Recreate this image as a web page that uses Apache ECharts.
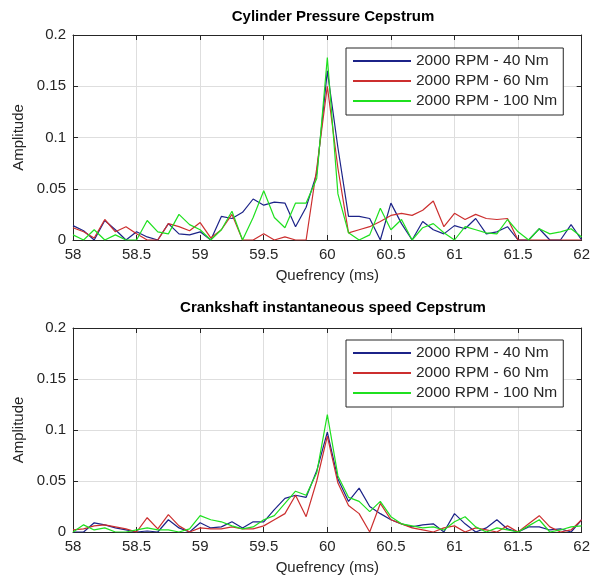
<!DOCTYPE html>
<html>
<head>
<meta charset="utf-8">
<script src="https://cdn.jsdelivr.net/npm/echarts@6/dist/echarts.min.js"></script>
<style>
html,body{margin:0;padding:0;background:#fff;}
#chart{width:593px;height:588px;}
</style>
</head>
<body>
<div id="chart"></div>
<script>
// Sampling grid of the quefrency axis (ms): 1/12 ms steps from 58 to 62
const quefrency = Array.from({length: 49}, (_, i) => 58 + i / 12);
const seriesNames = ['2000 RPM - 40 Nm', '2000 RPM - 60 Nm', '2000 RPM - 100 Nm'];
const xTicks = [58, 58.5, 59, 59.5, 60, 60.5, 61, 61.5, 62];
const yTicks = [0, 0.05, 0.1, 0.15, 0.2];
const titles = ['Cylinder Pressure Cepstrum', 'Crankshaft instantaneous speed Cepstrum'];

const cylBlue = [
  0.014, 0.009, 0.000, 0.019, 0.010, 0.000, 0.008, 0.003, 0.000, 0.016,
  0.006, 0.005, 0.008, 0.000, 0.023, 0.021, 0.027, 0.040, 0.034, 0.037,
  0.036, 0.013, 0.032, 0.065, 0.165, 0.090, 0.023, 0.023, 0.021, 0.000,
  0.036, 0.016, 0.000, 0.018, 0.010, 0.006, 0.014, 0.011, 0.021, 0.006,
  0.008, 0.013, 0.000, 0.000, 0.011, 0.000, 0.000, 0.015, 0.000];
const cylRed = [
  0.012, 0.008, 0.002, 0.020, 0.008, 0.013, 0.006, 0.000, 0.000, 0.016,
  0.013, 0.009, 0.017, 0.002, 0.010, 0.025, 0.000, 0.000, 0.006, 0.000,
  0.003, 0.000, 0.000, 0.070, 0.150, 0.070, 0.007, 0.010, 0.013, 0.018,
  0.024, 0.026, 0.024, 0.029, 0.038, 0.013, 0.026, 0.020, 0.025, 0.021,
  0.020, 0.021, 0.000, 0.000, 0.000, 0.000, 0.000, 0.000, 0.000];
const cylGreen = [
  0.005, 0.000, 0.010, 0.000, 0.005, 0.000, 0.000, 0.019, 0.008, 0.006,
  0.025, 0.015, 0.010, 0.000, 0.010, 0.028, 0.000, 0.022, 0.048, 0.022,
  0.012, 0.036, 0.036, 0.060, 0.178, 0.045, 0.007, 0.000, 0.005, 0.031,
  0.010, 0.020, 0.000, 0.012, 0.016, 0.007, 0.000, 0.013, 0.010, 0.007,
  0.006, 0.020, 0.008, 0.000, 0.011, 0.006, 0.008, 0.011, 0.003];

const crankBlue = [
  0.000, 0.000, 0.009, 0.007, 0.004, 0.002, 0.000, 0.001, 0.000, 0.012,
  0.004, 0.000, 0.009, 0.004, 0.005, 0.010, 0.004, 0.010, 0.010, 0.022,
  0.033, 0.036, 0.034, 0.060, 0.098, 0.052, 0.030, 0.043, 0.025, 0.018,
  0.012, 0.008, 0.005, 0.007, 0.008, 0.000, 0.018, 0.008, 0.000, 0.004,
  0.012, 0.003, 0.000, 0.005, 0.005, 0.002, 0.003, 0.000, 0.012];
const crankRed = [
  0.002, 0.003, 0.006, 0.007, 0.005, 0.003, 0.000, 0.014, 0.003, 0.017,
  0.006, 0.000, 0.004, 0.003, 0.003, 0.005, 0.003, 0.003, 0.006, 0.012,
  0.018, 0.036, 0.015, 0.050, 0.094, 0.048, 0.026, 0.018, 0.000, 0.028,
  0.012, 0.008, 0.004, 0.002, 0.000, 0.004, 0.006, 0.000, 0.004, 0.002,
  0.000, 0.006, 0.000, 0.008, 0.016, 0.005, 0.000, 0.002, 0.012];
const crankGreen = [
  0.000, 0.007, 0.002, 0.004, 0.000, 0.000, 0.002, 0.004, 0.002, 0.002,
  0.000, 0.003, 0.016, 0.012, 0.010, 0.006, 0.003, 0.005, 0.012, 0.016,
  0.028, 0.040, 0.036, 0.058, 0.115, 0.055, 0.034, 0.030, 0.020, 0.030,
  0.015, 0.008, 0.006, 0.004, 0.005, 0.002, 0.010, 0.015, 0.005, 0.000,
  0.004, 0.002, 0.000, 0.006, 0.012, 0.000, 0.002, 0.005, 0.006];

const colors = ['#1c2388', '#cc2f2f', '#1fe01f'];
const FONT = '"Liberation Sans", Arial, Helvetica, sans-serif';
const TXT = '#262626';

const chart = echarts.init(document.getElementById('chart'), null, {renderer: 'canvas'});

const grids = [
  {left: 73, right: 10, top: 35, height: 205},
  {left: 73, right: 10, top: 328, height: 204}
];

function pairs(vals) { return vals.map((v, i) => [quefrency[i], v]); }

const xAxes = [], yAxes = [];
[0, 1].forEach(g => {
  xAxes.push({
    type: 'value', gridIndex: g, min: xTicks[0], max: xTicks[xTicks.length - 1], interval: 0.5,
    position: 'bottom',
    name: 'Quefrency (ms)', nameLocation: 'middle', nameGap: 28,
    nameTextStyle: {fontFamily: FONT, fontSize: 15, color: TXT},
    axisLine: {show: true, onZero: false, lineStyle: {color: TXT, width: 1}},
    axisTick: {show: true, inside: true, length: 5, lineStyle: {color: TXT}},
    axisLabel: {show: true, fontFamily: FONT, fontSize: 15, color: TXT, margin: 7,
      showMinLabel: true, showMaxLabel: true, formatter: v => String(v)},
    splitLine: {show: true, lineStyle: {color: '#dedede', width: 1}}
  });
  xAxes.push({
    type: 'value', gridIndex: g, min: xTicks[0], max: xTicks[xTicks.length - 1], interval: 0.5,
    position: 'top',
    axisLine: {show: true, onZero: false, lineStyle: {color: TXT, width: 1}},
    axisTick: {show: true, inside: true, length: 5, lineStyle: {color: TXT}},
    axisLabel: {show: false}, splitLine: {show: false}
  });
  yAxes.push({
    type: 'value', gridIndex: g, min: 0, max: yTicks[yTicks.length - 1], interval: 0.05,
    position: 'left',
    name: 'Amplitude', nameLocation: 'middle', nameGap: 47, nameRotate: 90,
    nameTextStyle: {fontFamily: FONT, fontSize: 15, color: TXT},
    axisLine: {show: true, onZero: false, lineStyle: {color: TXT, width: 1}},
    axisTick: {show: true, inside: true, length: 5, lineStyle: {color: TXT}},
    axisLabel: {show: true, fontFamily: FONT, fontSize: 15, color: TXT, margin: 7,
      formatter: v => String(Math.round(v * 100) / 100)},
    splitLine: {show: true, lineStyle: {color: '#dedede', width: 1}}
  });
  yAxes.push({
    type: 'value', gridIndex: g, min: 0, max: yTicks[yTicks.length - 1], interval: 0.05,
    position: 'right',
    axisLine: {show: true, onZero: false, lineStyle: {color: TXT, width: 1}},
    axisTick: {show: true, inside: true, length: 5, lineStyle: {color: TXT}},
    axisLabel: {show: false}, splitLine: {show: false}
  });
});

const data = [[cylBlue, cylRed, cylGreen], [crankBlue, crankRed, crankGreen]];
const series = [];
[0, 1].forEach(g => {
  data[g].forEach((vals, s) => {
    series.push({
      type: 'line', name: seriesNames[s], xAxisIndex: g * 2, yAxisIndex: g * 2,
      data: pairs(vals), symbol: 'none', showSymbol: false, smooth: false, animation: false,
      legendIcon: 'rect',
      lineStyle: {color: colors[s], width: 1.2}, itemStyle: {color: colors[s]},
      z: 3 + s
    });
  });
});

const legendBase = {
  orient: 'vertical', left: 346, data: seriesNames,
  backgroundColor: '#ffffff', borderColor: TXT, borderWidth: 1,
  padding: [5, 6, 6, 6], itemWidth: 58, itemHeight: 1.5, itemGap: 4,
  textStyle: {fontFamily: FONT, fontSize: 15.5, color: TXT, lineHeight: 16},
  selectedMode: false
};

chart.setOption({
  backgroundColor: '#ffffff',
  animation: false,
  title: [
    {text: titles[0], left: 328, textAlign: 'center', top: 4,
     textStyle: {fontFamily: FONT, fontSize: 15, fontWeight: 'bold', color: '#000'}},
    {text: titles[1], left: 328, textAlign: 'center', top: 295,
     textStyle: {fontFamily: FONT, fontSize: 15, fontWeight: 'bold', color: '#000'}}
  ],
  legend: [
    Object.assign({}, legendBase, {top: 48}),
    Object.assign({}, legendBase, {top: 340})
  ],
  grid: grids,
  xAxis: xAxes,
  yAxis: yAxes,
  series: series
});
</script>
</body>
</html>
